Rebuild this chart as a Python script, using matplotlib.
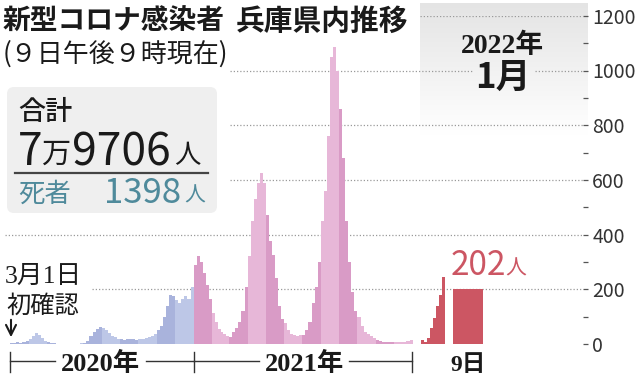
import matplotlib
matplotlib.use('Agg')
import matplotlib.pyplot as plt
import numpy as np
import pandas as pd
from matplotlib.patches import FancyBboxPatch
from matplotlib.colors import LinearSegmentedColormap

# ---------------- data ----------------
months = pd.period_range('2020-03', '2021-12', freq='M')
# six readings per month (about every 5 days), Mar 2020 - Dec 2020
cases_2020 = [
    2, 4, 6, 5, 8, 12,            # Mar
    18, 30, 40, 32, 22, 12,       # Apr
    6, 3, 2, 1, 0, 0,             # May
    0, 1, 0, 1, 1, 2,             # Jun
    3, 10, 28, 45, 55, 62,        # Jul
    58, 50, 40, 30, 25, 20,       # Aug
    18, 15, 20, 17, 20, 15,       # Sep
    18, 20, 22, 25, 28, 35,       # Oct
    50, 65, 100, 140, 180, 175,   # Nov
    160, 150, 165, 175, 165, 210, # Dec
]
cases_2021 = [
    290, 320, 300, 260, 215, 165,     # Jan
    115, 80, 55, 45, 35, 30,          # Feb
    27, 45, 60, 80, 120, 210,         # Mar
    320, 450, 530, 590, 625, 590,     # Apr
    470, 375, 325, 240, 140, 90,      # May
    75, 50, 35, 33, 30, 33,           # Jun
    33, 50, 80, 150, 210, 300,        # Jul
    450, 560, 760, 1050, 1085, 1000,  # Aug
    860, 680, 450, 300, 190, 120,     # Sep
    100, 65, 45, 35, 28, 22,          # Oct
    15, 10, 8, 7, 6, 6,               # Nov
    6, 6, 8, 8, 10, 15,               # Dec
]
jan2022_days = [1, 2, 3, 4, 5, 6, 7, 8, 9]
jan2022_cases = [16, 8, 22, 57, 96, 138, 178, 246, 202]
yticks_major = [0, 200, 400, 600, 800, 1000, 1200]
yticks_minor = [100, 300, 500, 700, 900, 1100]

# ---------------- style ----------------
W, H = 640, 375
JP = ['Noto Sans CJK JP', 'DejaVu Sans']
SERIF = ['Liberation Serif', 'Noto Sans CJK JP']
blue_dark, blue_light = '#a9b3dc', '#bdc7e7'
pink_dark, pink_light = '#d99bc6', '#e7b7d8'
red = '#cc5663'
teal = '#4f8a9b'
grid_c = '#9a9a9a'

fig = plt.figure(figsize=(W / 100, H / 100), dpi=100)
fig.patch.set_facecolor('white')

Y0, Y1 = 344.0, 15.8  # pixel rows of value 0 and 1200
bottom = 1 - Y0 / H
height = (Y0 - Y1) / H

# background / decoration axes in pixel coordinates
bg = fig.add_axes([0, 0, 1, 1], zorder=0)
bg.set_xlim(0, W)
bg.set_ylim(H, 0)
bg.axis('off')

grad = np.linspace(0, 1, 200).reshape(-1, 1)
cmap = LinearSegmentedColormap.from_list('g', ['#e4e4e4', '#ffffff'])
bg.imshow(grad, extent=(420, 588, 135, 3), cmap=cmap, aspect='auto', zorder=0)

box = FancyBboxPatch((7, 87), 210, 126, boxstyle='round,pad=0,rounding_size=7',
                     fc='#efefef', ec='none', zorder=1)
bg.add_patch(box)
bg.plot([15, 208], [173, 173], color='#444444', lw=1.6, zorder=2)

# texts
bg.text(3, 30, '新型コロナ感染者', family=JP, fontsize=20, weight='bold', color='#1a1a1a', va='baseline')
bg.text(236, 30, '兵庫県内推移', family=JP, fontsize=20.7, weight='bold', color='#1a1a1a', va='baseline')
bg.text(3, 62, '(９日午後９時現在)', family=JP, fontsize=18.7, color='#1a1a1a', va='baseline')

bg.text(18, 120, '合計', family=JP, fontsize=19.5, weight='medium', color='#1a1a1a', va='baseline')
bg.text(18, 165, '7', family=JP, fontsize=32, color='#1a1a1a', va='baseline')
bg.text(41, 163, '万', family=JP, fontsize=21, color='#1a1a1a', va='baseline')
bg.text(72, 165, '9706', family=JP, fontsize=32, color='#1a1a1a', va='baseline')
bg.text(174, 163.5, '人', family=JP, fontsize=19, color='#1a1a1a', va='baseline')
bg.text(18, 201.5, '死者', family=JP, fontsize=19, color=teal, va='baseline')
bg.text(104, 203, '1398', family=JP, fontsize=25, color=teal, va='baseline')
bg.text(184, 201.5, '人', family=JP, fontsize=15, color=teal, va='baseline')

bg.text(502, 53, '2022年', family=SERIF, fontsize=20, weight='bold', color='#1a1a1a', ha='center', va='baseline')
bg.text(503, 88, '1月', family=JP, fontsize=25, weight='bold', color='#1a1a1a', ha='center', va='baseline')

bg.text(5, 283, '3月1日', family=SERIF, fontsize=18.5, color='#1a1a1a', va='baseline')
bg.text(6, 313, '初確認', family=JP, fontsize=17.5, color='#1a1a1a', va='baseline')
bg.annotate('', xy=(11, 340), xytext=(11, 317),
            arrowprops=dict(arrowstyle='->', lw=1.5, color='#1a1a1a', mutation_scale=18))

# year brackets
x20a, x21a, x21b = 10, 193.6, 412
for xv in (x20a, x21a, x21b):
    bg.plot([xv, xv], [352, 372], color='#333333', lw=1)
for xa, xb in ((x20a, 55), (146, x21a), (x21a, 259), (349, x21b)):
    bg.plot([xa, xb], [361, 361], color='#333333', lw=1)
bg.text(100, 371, '2020年', family=SERIF, fontsize=19, weight='bold', color='#1a1a1a', ha='center', va='baseline')
bg.text(304, 371, '2021年', family=SERIF, fontsize=19, weight='bold', color='#1a1a1a', ha='center', va='baseline')
bg.text(468, 371, '9日', family=SERIF, fontsize=17, weight='bold', color='#1a1a1a', ha='center', va='baseline')

bg.text(451, 275, '202', family=JP, fontsize=24, color=red, va='baseline')
bg.text(505, 275, '人', family=JP, fontsize=15, color=red, va='baseline')

# ---------------- grid + value axis ----------------
ga = fig.add_axes([0, bottom, 583 / W, height], zorder=1)
ga.patch.set_visible(False)
ga.set_xlim(0, 583)
ga.set_ylim(0, 1200)
for s in ga.spines.values():
    s.set_visible(False)
ga.set_xticks([])
grid_segments = {1200: [(420, 583)], 1000: [(230, 472), (535, 583)], 800: [(230, 583)],
                 600: [(230, 583)], 400: [(5, 583)], 200: [(92, 583)]}
for yv, segs in grid_segments.items():
    for xa, xb in segs:
        ga.hlines(yv, xa, xb, colors=grid_c, linestyles=(0, (1, 1.6)), lw=0.9)
ga.yaxis.tick_right()
ga.set_yticks(yticks_major)
ga.set_yticks(yticks_minor, minor=True)
ga.set_yticklabels([str(v) for v in yticks_major], family=JP, fontsize=14, color='#333333')
ga.tick_params(axis='y', which='both', direction='out', length=3.6, width=0.9, color='#555555', pad=3)

# ---------------- bars 2020-2021 ----------------
start = pd.Timestamp('2020-03-01')
total_days = (pd.Timestamp('2022-01-01') - start).days
ax = fig.add_axes([10 / W, bottom, (412.6 - 10) / W, height], zorder=2)
ax.patch.set_visible(False)
ax.set_xlim(0, total_days)
ax.set_ylim(0, 1200)
ax.axis('off')
values = cases_2020 + cases_2021
for mi, m in enumerate(months):
    ms = (m.to_timestamp() - start).days
    L = m.days_in_month
    light = (mi % 2 == 1)
    if m.year == 2020:
        col = blue_light if light else blue_dark
    else:
        col = pink_light if light else pink_dark
    lefts = [ms + k * L / 6 for k in range(6)]
    ax.bar(lefts, values[mi * 6:(mi + 1) * 6], width=L / 6, align='edge', color=col, lw=0)

# ---------------- bars Jan 2022 ----------------
aj = fig.add_axes([420.7 / W, bottom, 62 / W, height], zorder=2)
aj.patch.set_visible(False)
aj.set_xlim(0, 20.3)
aj.set_ylim(0, 1200)
aj.axis('off')
lefts = [d - 1 for d in jan2022_days[:-1]] + [10.5]
widths = [1] * 8 + [9.8]
aj.bar(lefts, jan2022_cases, width=widths, align='edge', color=red, lw=0)

fig.savefig('out.png', dpi=100, facecolor='white')
